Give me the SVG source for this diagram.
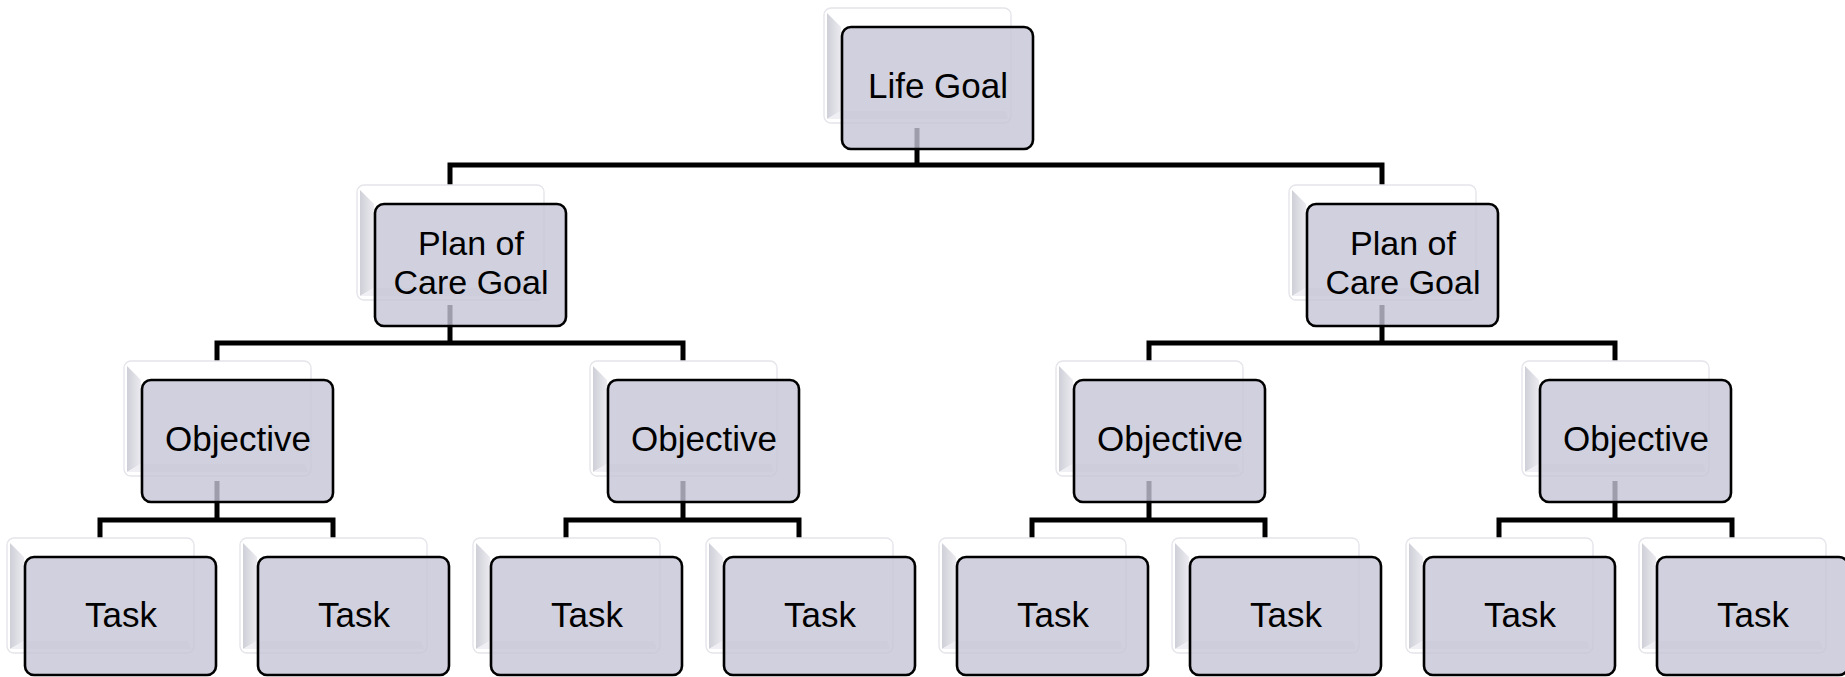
<svg xmlns="http://www.w3.org/2000/svg" xmlns:xlink="http://www.w3.org/1999/xlink" width="1845" height="677" viewBox="0 0 1845 677">
<style>
.front{fill:#c5c4d6;fill-opacity:0.8;stroke:#000;stroke-width:2.6}
.lbl{font-family:"Liberation Sans",Arial,sans-serif;font-size:35px;fill:#000;text-anchor:middle}
.lbl2{font-size:34px}
.conn{fill:none;stroke:#000;stroke-width:5;stroke-linejoin:miter;stroke-linecap:butt}
</style>
<defs>
<linearGradient id="bevel" x1="0" y1="0" x2="1" y2="0">
<stop offset="0" stop-color="#cfcfd8"/>
<stop offset="1" stop-color="#ebebf0"/>
</linearGradient>
<g id="back">
<rect x="0" y="0" width="187" height="115" rx="7" fill="#ffffff" stroke="#e4e4ea" stroke-width="1.3"/>
<path d="M3 5 L17 19 V103 L3 111 Z" fill="url(#bevel)"/>
<path d="M17 103 H181 L184 111 H3 Z" fill="#f0f0f4"/>
</g>
</defs>
<rect width="1845" height="677" fill="#ffffff"/>
<g id="connectors">
<path class="conn" d="M450 185 V165 H1382 V185 M917 128 V165"/>
<path class="conn" d="M217 361 V343 H683 V361 M450 305 V343"/>
<path class="conn" d="M1149 361 V343 H1615 V361 M1382 305 V343"/>
<path class="conn" d="M100 538 V520 H333 V538 M217 481 V520"/>
<path class="conn" d="M566 538 V520 H799 V538 M683 481 V520"/>
<path class="conn" d="M1032 538 V520 H1265 V538 M1149 481 V520"/>
<path class="conn" d="M1499 538 V520 H1732 V538 M1615 481 V520"/>
</g>
<g id="life-goal">
<use href="#back" x="824" y="8"/>
<rect class="front" x="842" y="27" width="191" height="122" rx="9"/>
<text class="lbl" x="938" y="98">Life Goal</text>
</g>
<g id="plan-1">
<use href="#back" x="357" y="185"/>
<rect class="front" x="375" y="204" width="191" height="122" rx="9"/>
<text class="lbl lbl2" x="471" y="255">Plan of</text>
<text class="lbl lbl2" x="471" y="293.5">Care Goal</text>
</g>
<g id="plan-2">
<use href="#back" x="1289" y="185"/>
<rect class="front" x="1307" y="204" width="191" height="122" rx="9"/>
<text class="lbl lbl2" x="1403" y="255">Plan of</text>
<text class="lbl lbl2" x="1403" y="293.5">Care Goal</text>
</g>
<g id="objective-1">
<use href="#back" x="124" y="361"/>
<rect class="front" x="142" y="380" width="191" height="122" rx="9"/>
<text class="lbl" x="238" y="451">Objective</text>
</g>
<g id="objective-2">
<use href="#back" x="590" y="361"/>
<rect class="front" x="608" y="380" width="191" height="122" rx="9"/>
<text class="lbl" x="704" y="451">Objective</text>
</g>
<g id="objective-3">
<use href="#back" x="1056" y="361"/>
<rect class="front" x="1074" y="380" width="191" height="122" rx="9"/>
<text class="lbl" x="1170" y="451">Objective</text>
</g>
<g id="objective-4">
<use href="#back" x="1522" y="361"/>
<rect class="front" x="1540" y="380" width="191" height="122" rx="9"/>
<text class="lbl" x="1636" y="451">Objective</text>
</g>
<g id="task-1">
<use href="#back" x="7" y="538"/>
<rect class="front" x="25" y="557" width="191" height="118" rx="9"/>
<text class="lbl" x="121" y="627">Task</text>
</g>
<g id="task-2">
<use href="#back" x="240" y="538"/>
<rect class="front" x="258" y="557" width="191" height="118" rx="9"/>
<text class="lbl" x="354" y="627">Task</text>
</g>
<g id="task-3">
<use href="#back" x="473" y="538"/>
<rect class="front" x="491" y="557" width="191" height="118" rx="9"/>
<text class="lbl" x="587" y="627">Task</text>
</g>
<g id="task-4">
<use href="#back" x="706" y="538"/>
<rect class="front" x="724" y="557" width="191" height="118" rx="9"/>
<text class="lbl" x="820" y="627">Task</text>
</g>
<g id="task-5">
<use href="#back" x="939" y="538"/>
<rect class="front" x="957" y="557" width="191" height="118" rx="9"/>
<text class="lbl" x="1053" y="627">Task</text>
</g>
<g id="task-6">
<use href="#back" x="1172" y="538"/>
<rect class="front" x="1190" y="557" width="191" height="118" rx="9"/>
<text class="lbl" x="1286" y="627">Task</text>
</g>
<g id="task-7">
<use href="#back" x="1406" y="538"/>
<rect class="front" x="1424" y="557" width="191" height="118" rx="9"/>
<text class="lbl" x="1520" y="627">Task</text>
</g>
<g id="task-8">
<use href="#back" x="1639" y="538"/>
<rect class="front" x="1657" y="557" width="191" height="118" rx="9"/>
<text class="lbl" x="1753" y="627">Task</text>
</g>
</svg>
